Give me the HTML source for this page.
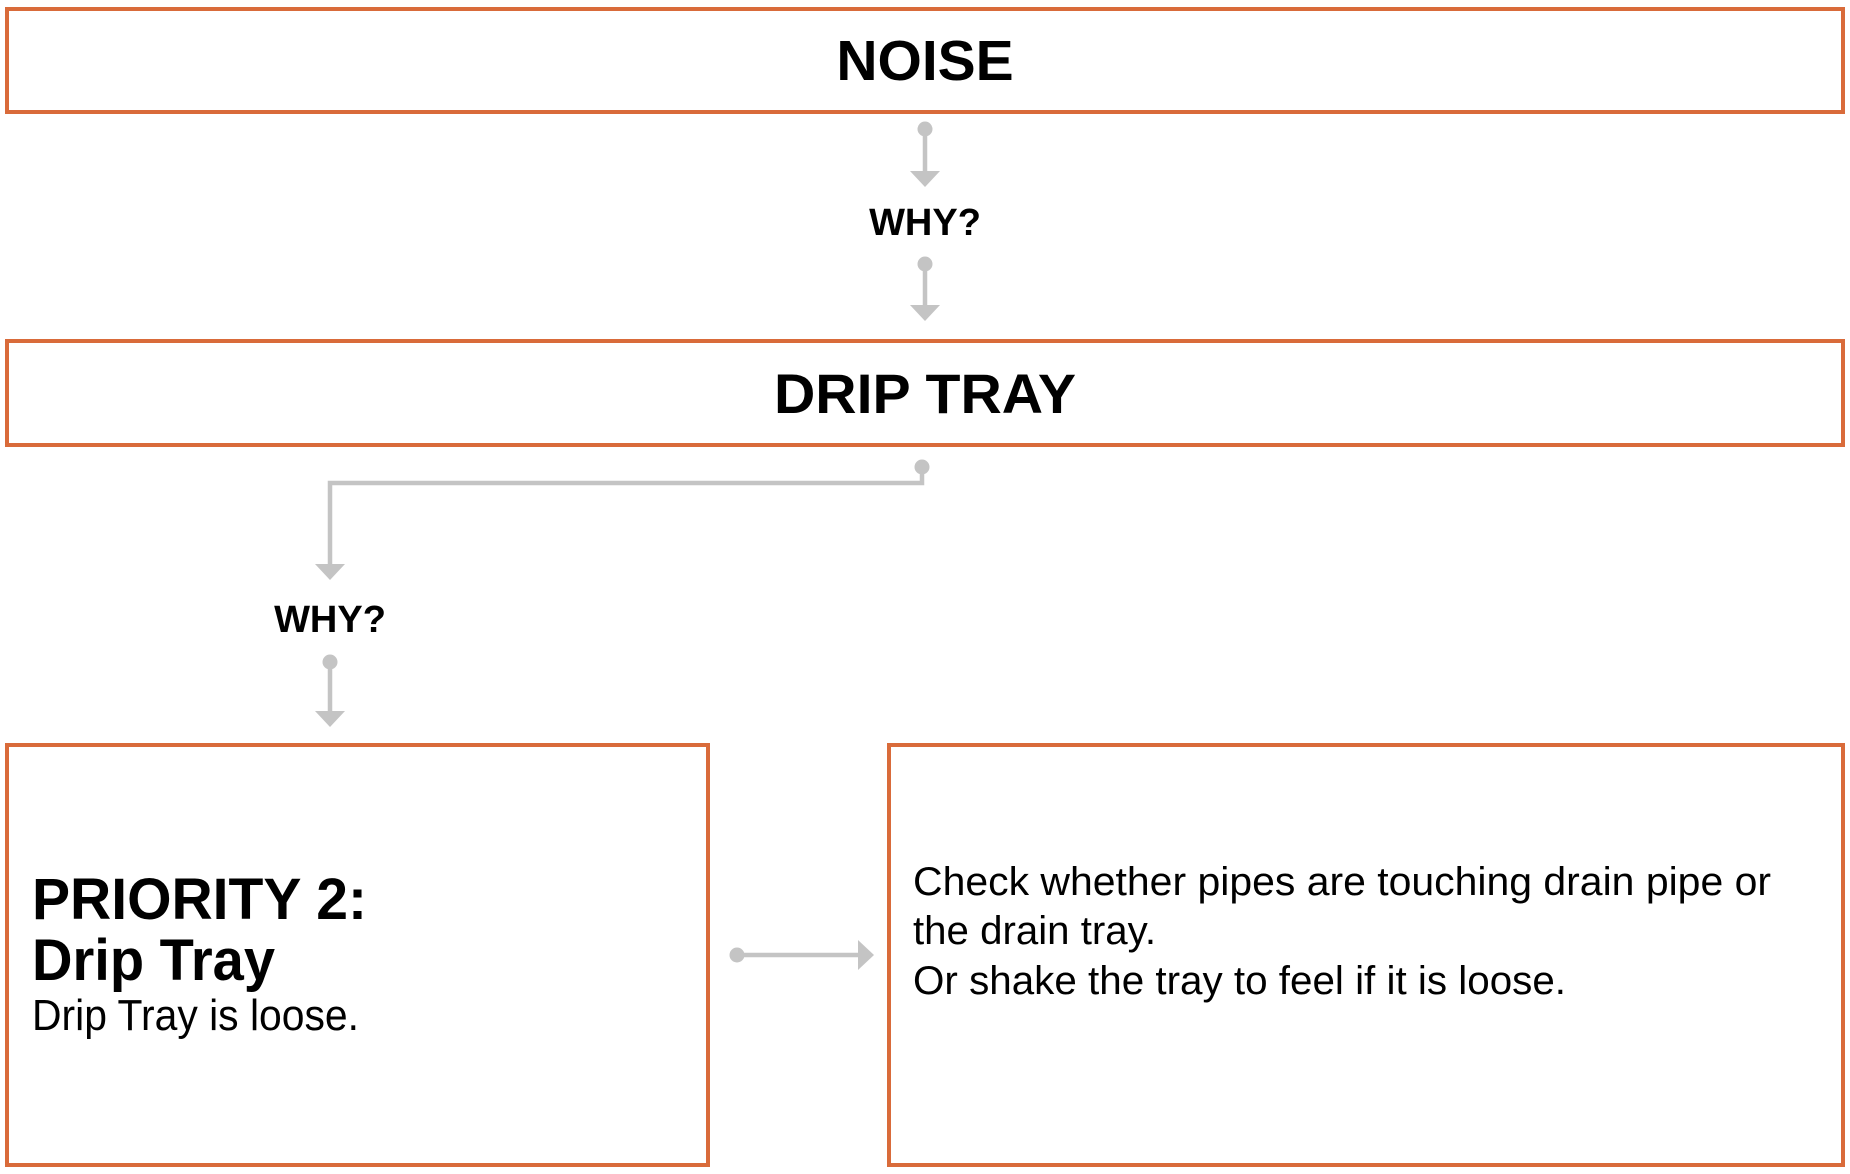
<!DOCTYPE html>
<html><head><style>
html,body{margin:0;padding:0;background:#fff;}
svg{display:block}
</style></head><body>
<svg width="1850" height="1174" viewBox="0 0 1850 1174" xmlns="http://www.w3.org/2000/svg">
<g fill="none" stroke="#d96b3a" stroke-width="4">
<rect x="7" y="9" width="1836" height="103"/>
<rect x="7" y="341" width="1836" height="104"/>
<rect x="7" y="745" width="701" height="420"/>
<rect x="889" y="745" width="954" height="420"/>
</g>
<g stroke="#c4c4c4" stroke-width="4.5" fill="none">
<line x1="925" y1="129" x2="925" y2="175"/>
<line x1="925" y1="264" x2="925" y2="309"/>
<polyline points="922,467 922,483 330,483 330,567"/>
<line x1="330" y1="662" x2="330" y2="715"/>
<line x1="737" y1="955" x2="862" y2="955"/>
</g>
<g fill="#c4c4c4">
<circle cx="925" cy="129" r="7.5"/>
<polygon points="910,171 940,171 925,187"/>
<circle cx="925" cy="264" r="7.5"/>
<polygon points="910,305 940,305 925,321"/>
<circle cx="922" cy="467" r="7.5"/>
<polygon points="315,564 345,564 330,580"/>
<circle cx="330" cy="662" r="7.5"/>
<polygon points="315,711 345,711 330,727"/>
<circle cx="737" cy="955" r="7.5"/>
<polygon points="858,940 858,970 874,955"/>
</g>
<g font-family="Liberation Sans, Arial, sans-serif" fill="#000">
<text x="925" y="80" font-size="57" font-weight="bold" text-anchor="middle">NOISE</text>
<text x="925" y="235" font-size="38" font-weight="bold" text-anchor="middle">WHY?</text>
<text x="925" y="413" font-size="56" font-weight="bold" text-anchor="middle" textLength="302" lengthAdjust="spacingAndGlyphs">DRIP TRAY</text>
<text x="330" y="632" font-size="38" font-weight="bold" text-anchor="middle">WHY?</text>
<text x="32" y="919" font-size="58" font-weight="bold" textLength="335" lengthAdjust="spacingAndGlyphs">PRIORITY 2:</text>
<text x="32" y="980" font-size="58" font-weight="bold" textLength="243" lengthAdjust="spacingAndGlyphs">Drip Tray</text>
<text x="32" y="1030" font-size="44" textLength="327" lengthAdjust="spacingAndGlyphs">Drip Tray is loose.</text>
<text x="913" y="895" font-size="40" textLength="858" lengthAdjust="spacingAndGlyphs">Check whether pipes are touching drain pipe or</text>
<text x="913" y="944" font-size="40" textLength="243" lengthAdjust="spacingAndGlyphs">the drain tray.</text>
<text x="913" y="994" font-size="40" textLength="653" lengthAdjust="spacingAndGlyphs">Or shake the tray to feel if it is loose.</text>
</g>
</svg>
</body></html>
